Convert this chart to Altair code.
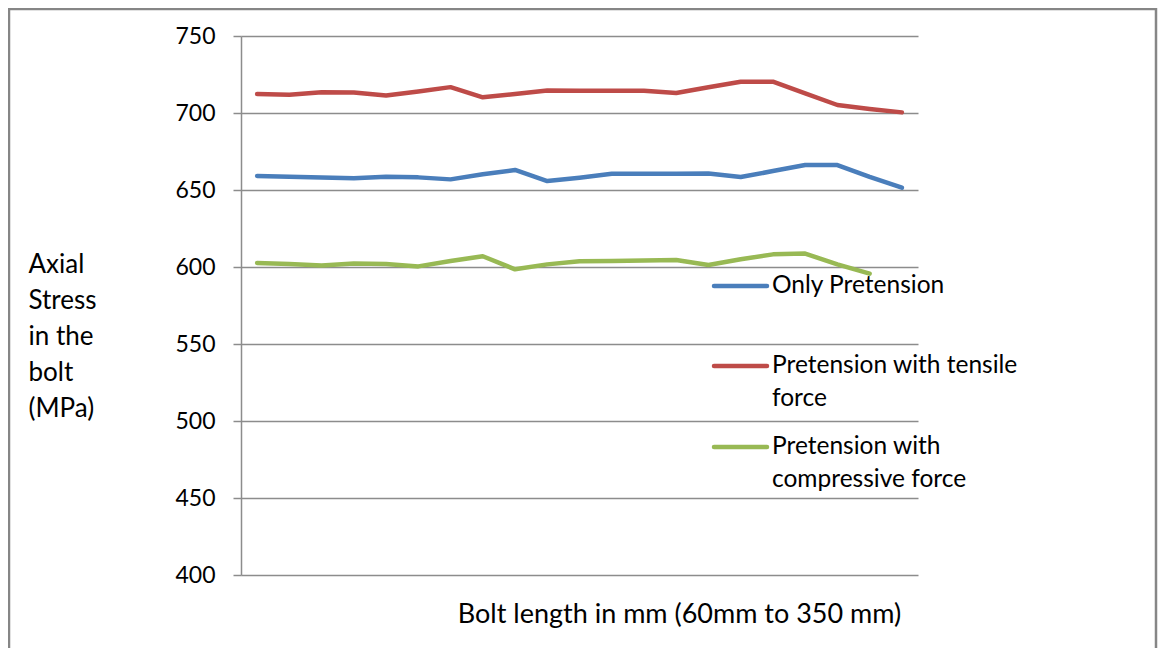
import altair as alt
import pandas as pd

# ---- data ----
points = list(range(1, 22))
series_names = ["Only Pretension", "Pretension with tensile force", "Pretension with compressive force"]
series_colors = ["#4a7ebb", "#be4b48", "#98b954"]

only_pretension = [659.1, 658.6, 658.1, 657.6, 658.6, 658.2, 656.9, 660.2, 663.0, 655.8, 658.0,
                   660.5, 660.6, 660.6, 660.7, 658.4, 662.3, 666.2, 666.2, 658.5, 651.5]
tensile = [712.3, 711.9, 713.4, 713.3, 711.3, 714.0, 716.8, 710.2, 712.3, 714.6, 714.5,
           714.5, 714.5, 713.0, 716.7, 720.3, 720.3, 712.8, 705.2, 702.6, 700.4]
compressive = [602.6, 602.0, 600.9, 602.2, 602.0, 600.4, 603.9, 607.0, 598.5, 601.7, 603.8,
               603.9, 604.3, 604.5, 601.3, 605.0, 608.2, 608.7, 601.7, 595.7]

y_ticks = [400, 450, 500, 550, 600, 650, 700, 750]
legend_labels = [["Only Pretension"], ["Pretension with tensile", "force"], ["Pretension with", "compressive force"]]

rows = []
for name, vals in zip(series_names, [only_pretension, tensile, compressive]):
    for p, v in zip(points, vals):
        rows.append({"point": p, "stress": v, "series": name})
df = pd.DataFrame(rows)

FONT = "Lato"
GRID = "#8c8c8c"

lines = alt.Chart(df).mark_line(strokeWidth=4.5, strokeCap="round", strokeJoin="round").encode(
    x=alt.X("point:O", scale=alt.Scale(type="point", padding=0.5),
            axis=alt.Axis(labels=False, ticks=False, domain=False, grid=False,
                          title="Bolt length in mm (60mm to 350 mm)",
                          titleX=438, titleY=47, titleAlign="center", titleBaseline="alphabetic",
                          titleFont=FONT, titleFontSize=27, titleFontWeight="normal", titleColor="black")),
    y=alt.Y("stress:Q", scale=alt.Scale(domain=[400, 750], nice=False, zero=False),
            axis=alt.Axis(values=y_ticks, grid=True, gridColor=GRID, gridWidth=1.5,
                          domainColor=GRID, domainWidth=1.5, tickColor=GRID, tickWidth=1.5, tickSize=8,
                          labelFont=FONT, labelFontSize=23, labelColor="black", labelPadding=18,
                          title=["Axial", "Stress", "in the", "bolt", "(MPa)"],
                          titleAngle=0, titleAlign="left", titleBaseline="alphabetic",
                          titleX=-213, titleY=236, titleLineHeight=36,
                          titleFont=FONT, titleFontSize=26, titleFontWeight="normal", titleColor="black")),
    color=alt.Color("series:N", scale=alt.Scale(domain=series_names, range=series_colors), legend=None),
    detail="series:N",
)

one = alt.Data(values=[{"k": 0}])
layers = [lines]

sym_y = [250, 330, 411]
txt_y = [257, 337, 418]
for i in range(3):
    layers.append(alt.Chart(one).mark_rule(strokeWidth=4.5, strokeCap="round", color=series_colors[i]).encode(
        x=alt.value(473), x2=alt.value(526), y=alt.value(sym_y[i])))
    layers.append(alt.Chart(one).mark_text(align="left", baseline="alphabetic", font=FONT, fontSize=24.5,
                                           lineHeight=33, color="black").encode(
        x=alt.value(531), y=alt.value(txt_y[i]), text=alt.value(legend_labels[i])))

border = alt.Chart(one).mark_rect(filled=False, stroke="#868686", strokeWidth=2.5).encode(
    x=alt.value(-232), x2=alt.value(915), y=alt.value(-27), y2=alt.value(720))
layers.append(border)

chart = alt.layer(*layers).properties(
    width=677, height=539,
    padding={"left": 233, "top": 28, "right": 240, "bottom": 73},
    autosize=alt.AutoSizeParams(type="none"),
    background="white",
).configure_view(stroke=None)

chart.save("out.html", embed_options={"renderer": "svg", "actions": False})
